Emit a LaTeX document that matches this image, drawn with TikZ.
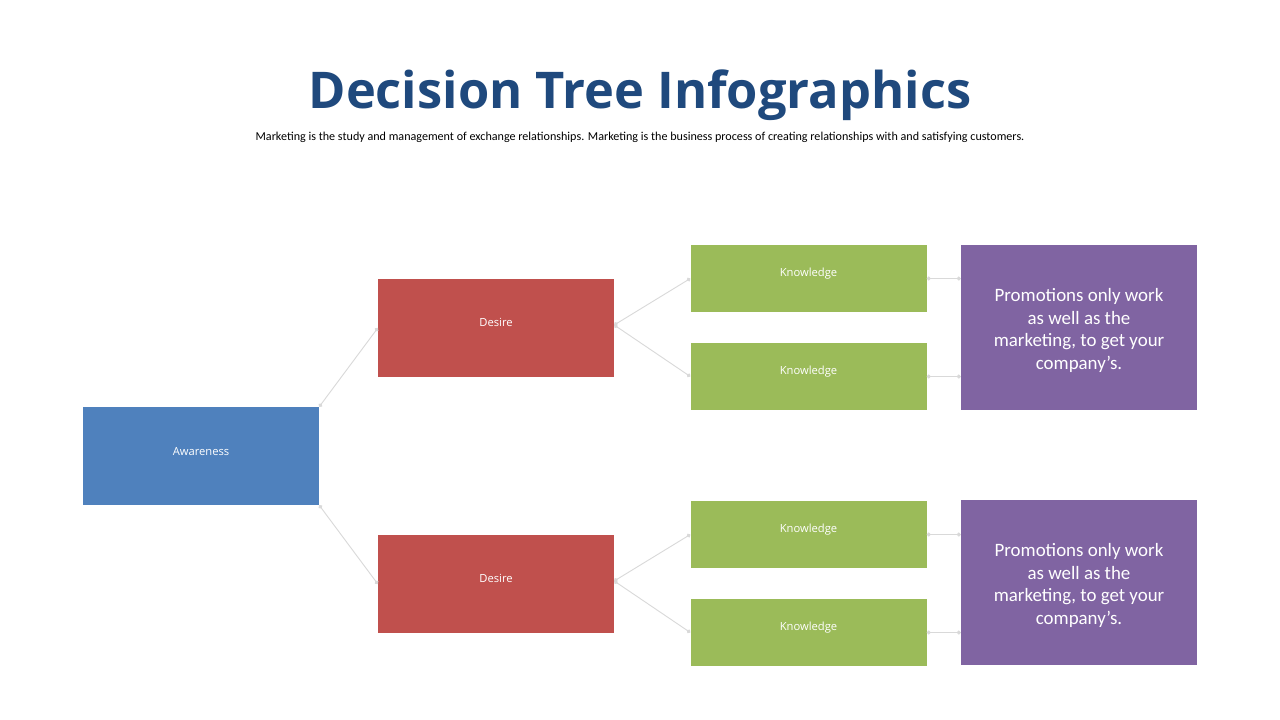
\documentclass[tikz,border=0pt]{standalone}
\usepackage{fontspec}
\setmainfont{Open Sans}
\newfontfamily\calib{Carlito}
\usetikzlibrary{arrows.meta}
\definecolor{titleblue}{HTML}{1F497D}
\definecolor{cblue}{HTML}{4F81BD}
\definecolor{cred}{HTML}{C0504D}
\definecolor{cgreen}{HTML}{9BBB59}
\definecolor{cpurple}{HTML}{8064A2}
\definecolor{cline}{HTML}{D9D9D9}
\begin{document}
\begin{tikzpicture}[x=1pt,y=-1pt,
  box/.style={draw=none,inner sep=0pt,minimum width=236pt},
  bigbox/.style={box,minimum height=98pt},
  kbox/.style={box,minimum height=67pt,fill=cgreen},
  pbox/.style={box,minimum height=165pt,fill=cpurple},
  ptxt/.style={text=white,align=center,yshift=-3pt,
     font=\calib\fontsize{18.9}{22.6}\selectfont},
  lbl/.style={text=white,font=\fontsize{11.2}{13}\selectfont},
  conn/.style={draw=cline,line width=0.9pt,{Circle[length=4pt]}-{Circle[length=4pt]}}
]
\useasboundingbox (0,0) rectangle (1280,720);
\fill[white] (0,0) rectangle (1280,720);
\node[text=titleblue,font=\bfseries\fontsize{50.6}{56}\selectfont,anchor=base] (title) at (640,108) {Decision Tree Infographics};
\node[font=\calib\fontsize{12.1}{14}\selectfont,anchor=base] (sub) at (640,140) {Marketing is the study and management of exchange relationships. Marketing is the business process of creating relationships with and satisfying customers.};

\node[bigbox,fill=cblue,label={[lbl,yshift=4pt]center:Awareness}] (aw) at (201,456) {};
\node[bigbox,fill=cred,label={[lbl,yshift=6pt]center:Desire}] (d1) at (496,328) {};
\node[bigbox,fill=cred,label={[lbl,yshift=6pt]center:Desire}] (d2) at (496,584) {};
\node[kbox,label={[lbl,yshift=5pt]center:Knowledge}] (k1) at (808.5,278.5) {};
\node[kbox,label={[lbl,yshift=5pt]center:Knowledge}] (k2) at (808.5,376.5) {};
\node[kbox,label={[lbl,yshift=5pt]center:Knowledge}] (k3) at (808.5,534.5) {};
\node[kbox,label={[lbl,yshift=5pt]center:Knowledge}] (k4) at (808.5,632.5) {};
\node[pbox,label={[ptxt]center:Promotions only work\\as well as the\\marketing, to get your\\company’s.}] (p1) at (1079,327.5) {};
\node[pbox,label={[ptxt]center:Promotions only work\\as well as the\\marketing, to get your\\company’s.}] (p2) at (1079,582.5) {};

\draw[conn] (aw.north east) -- (d1.west);
\draw[conn] (aw.south east) -- (d2.west);
\draw[conn] ([yshift=3pt]d1.east) -- (k1.west);
\draw[conn] ([yshift=3pt]d1.east) -- (k2.west);
\draw[conn] ([yshift=3pt]d2.east) -- (k3.west);
\draw[conn] ([yshift=3pt]d2.east) -- (k4.west);
\draw[conn] (k1.east) -- (p1.west |- k1.east);
\draw[conn] (k2.east) -- (p1.west |- k2.east);
\draw[conn] (k3.east) -- (p2.west |- k3.east);
\draw[conn] (k4.east) -- (p2.west |- k4.east);
\end{tikzpicture}
\end{document}
